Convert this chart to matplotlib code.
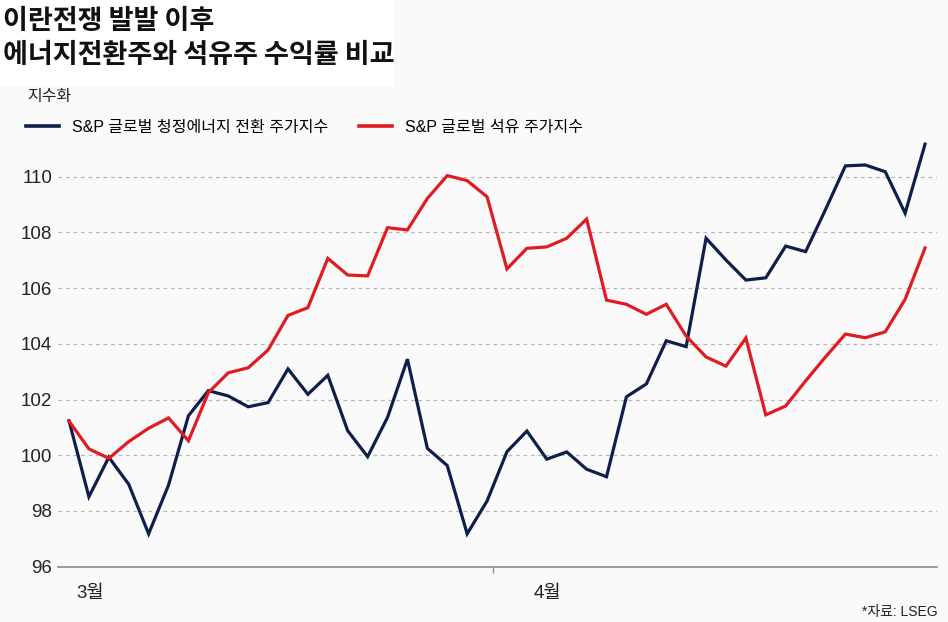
import numpy as np
import matplotlib
matplotlib.use("Agg")
import matplotlib.pyplot as plt
from matplotlib import font_manager as fm
from matplotlib.lines import Line2D
from matplotlib.patches import Rectangle

# ---------------- data ----------------
title_lines = ["이란전쟁 발발 이후", "에너지전환주와 석유주 수익률 비교"]
unit_label = "지수화"
series_names = ["S&P 글로벌 청정에너지 전환 주가지수", "S&P 글로벌 석유 주가지수"]
source_text = "*자료: LSEG"
month_labels = ["3월", "4월"]
month_label_pos = [1.05, 24.05]      # trading-day index where month labels sit
month_boundary = [21.3]              # trading-day index of Mar/Apr boundary
y_ticks = [96, 98, 100, 102, 104, 106, 108, 110]

clean_energy = [101.24, 98.51, 99.93, 98.96, 97.18, 98.93, 101.42, 102.32, 102.13, 101.74,
                101.89, 103.10, 102.19, 102.87, 100.88, 99.95, 101.36, 103.45, 100.25, 99.63,
                97.18, 98.36, 100.13, 100.87, 99.86, 100.12, 99.50, 99.23, 102.10, 102.56,
                104.11, 103.90, 107.79, 107.01, 106.29, 106.37, 107.51, 107.31, 108.82, 110.39,
                110.42, 110.18, 108.69, 111.17]
oil = [101.23, 100.23, 99.89, 100.49, 100.97, 101.34, 100.52, 102.25, 102.96, 103.14,
       103.78, 105.02, 105.30, 107.07, 106.47, 106.44, 108.17, 108.09, 109.22, 110.04,
       109.86, 109.28, 106.69, 107.43, 107.48, 107.79, 108.48, 105.57, 105.42, 105.06,
       105.42, 104.28, 103.53, 103.20, 104.21, 101.45, 101.77, 102.67, 103.53, 104.35,
       104.22, 104.43, 105.60, 107.44]

# ---------------- fonts ----------------
names = {f.name for f in fm.fontManager.ttflist}
narrow = "Liberation Sans Narrow" if "Liberation Sans Narrow" in names else "Liberation Sans"
fam = [narrow, "Noto Sans CJK KR", "DejaVu Sans"]
kfam = ["Noto Sans CJK KR", "DejaVu Sans"]
plt.rcParams["font.family"] = fam

NAVY = "#0f1f4b"
RED = "#e01b22"
GREY_TXT = "#222222"

W, H = 948, 622
fig = plt.figure(figsize=(W / 100, H / 100), dpi=100)
fig.patch.set_facecolor("#fafafa")
fig.patches.append(Rectangle((0, 1 - 86 / H), 394 / W, 86 / H, transform=fig.transFigure,
                             facecolor="white", edgecolor="none", zorder=0))

# axes placement (pixels -> figure fraction)
left_px, right_px = 58, 937
bottom_px, top_px = 566.7, 140.5
ax = fig.add_axes([left_px / W, 1 - bottom_px / H, (right_px - left_px) / W,
                   (bottom_px - top_px) / H])
ax.set_facecolor("none")

x = np.arange(len(clean_energy))
ax.plot(x, clean_energy, color=NAVY, lw=2.3, solid_joinstyle="miter", clip_on=False, zorder=3)
ax.plot(x, oil, color=RED, lw=2.3, solid_joinstyle="miter", clip_on=False, zorder=3)

ax.set_xlim(-0.5526, 43.60)
ax.set_ylim(96, 111.3)
ax.set_yticks(y_ticks)
ax.set_yticklabels([str(v) for v in y_ticks], fontsize=13.5, color=GREY_TXT, family=fam)
ax.tick_params(axis="y", length=0, pad=4.3)
ax.set_xticks(month_boundary)
ax.set_xticklabels([""])
ax.tick_params(axis="x", length=4.5, width=1.0, color="#8a8a8a", direction="out")

for s in ["top", "right", "left"]:
    ax.spines[s].set_visible(False)
ax.spines["bottom"].set_color("#8a8a8a")
ax.spines["bottom"].set_linewidth(1.2)

ax.yaxis.grid(True, color="#b8b8b8", lw=0.9, linestyle=(0, (3, 3)))
ax.set_axisbelow(True)

for lab, pos in zip(month_labels, month_label_pos):
    ax.text(pos, -0.062, lab, transform=ax.get_xaxis_transform(), ha="center", va="center",
            fontsize=13.5, color=GREY_TXT, family=fam)

# titles
fig.text(3 / W, 1 - 21 / H, title_lines[0], ha="left", va="center", fontsize=19.5,
         fontweight="bold", family=kfam, color="#111111")
fig.text(3 / W, 1 - 55 / H, title_lines[1], ha="left", va="center", fontsize=19.5,
         fontweight="bold", family=kfam, color="#111111")
fig.text(27 / W, 1 - 97 / H, unit_label, ha="left", va="center", fontsize=11.5,
         family=fam, color=GREY_TXT)

handles = [Line2D([], [], color=NAVY, lw=2.6), Line2D([], [], color=RED, lw=2.6)]
fig.legend(handles, series_names, loc="center left", bbox_to_anchor=(26 / W, 1 - 127 / H),
           ncol=2, frameon=False, borderpad=0, borderaxespad=0,
           handlelength=2.05, handletextpad=0.85, columnspacing=1.9,
           prop={"family": fam, "size": 11.5})

fig.text(938 / W, 1 - 612 / H, source_text, ha="right", va="center", fontsize=10,
         family=fam, color=GREY_TXT)

fig.savefig("out.png", dpi=100, facecolor=fig.get_facecolor())
